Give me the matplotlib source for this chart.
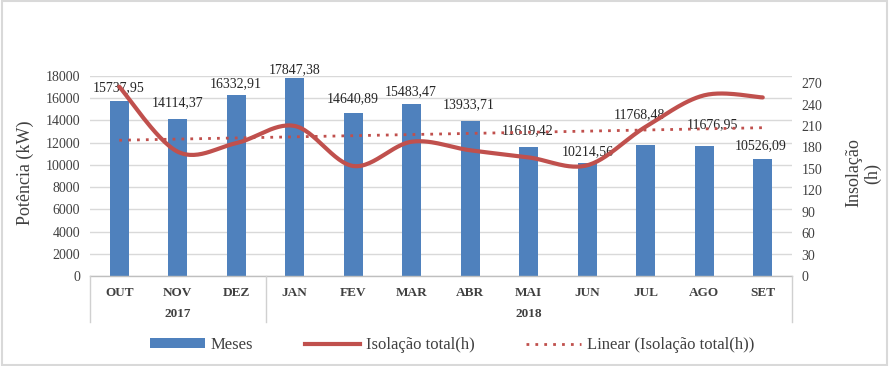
import matplotlib
matplotlib.use('Agg')
matplotlib.rc('font', family='Liberation Serif')
import numpy as np
import matplotlib.pyplot as plt
from matplotlib.patches import Rectangle, Patch
from matplotlib.lines import Line2D

meses = ['OUT', 'NOV', 'DEZ', 'JAN', 'FEV', 'MAR', 'ABR', 'MAI', 'JUN', 'JUL', 'AGO', 'SET']
anos = ['2017', '2018']
potencia = [15737.95, 14114.37, 16332.91, 17847.38, 14640.89, 15483.47,
            13933.71, 11619.42, 10214.56, 11768.48, 11676.95, 10526.09]
insolacao = [265, 174, 186, 210, 154, 188, 176, 166, 155, 209, 253, 250]

azul = '#4F81BD'
verm = '#C0504D'
grade = '#D9D9D9'

# label offsets (px) from bar top, as placed in the original
lbl_dx = [-1, 0, -1, 0, -1, -1, -2, -1, 0, -6, 8, -2]
lbl_dy = [13, 16, 11, 8, 15, 12, 16, 16, 11, 31, 22, 13]


def catmull(xs, ys, n=30):
    xs = np.asarray(xs, float)
    ys = np.asarray(ys, float)
    px = np.concatenate([[xs[0]], xs, [xs[-1]]])
    py = np.concatenate([[ys[0]], ys, [ys[-1]]])
    ox, oy = [], []
    for i in range(1, len(px) - 2):
        t = np.linspace(0, 1, n)
        for p, out in ((px, ox), (py, oy)):
            p0, p1, p2, p3 = p[i - 1], p[i], p[i + 1], p[i + 2]
            m1 = (p2 - p0) / 2
            m2 = (p3 - p1) / 2
            h00 = 2 * t**3 - 3 * t**2 + 1
            h10 = t**3 - 2 * t**2 + t
            h01 = -2 * t**3 + 3 * t**2
            h11 = t**3 - t**2
            out.extend(h00 * p1 + h10 * m1 + h01 * p2 + h11 * m2)
    return np.array(ox), np.array(oy)


W, H = 889, 366
fig = plt.figure(figsize=(W / 100, H / 100), dpi=100)
ax = fig.add_axes([90 / W, 1 - 276 / H, 702 / W, 200 / H])
ax2 = ax.twinx()

x = np.arange(len(meses))
ax.bar(x, potencia, width=0.33, color=azul, zorder=2)
ax.set_xlim(-0.5, len(meses) - 0.5)
ax.set_ylim(0, 18000)
ax.set_yticks(np.arange(0, 18001, 2000))
ax.grid(axis='y', color=grade, linewidth=1, zorder=0)
ax.set_axisbelow(True)
for s in ax.spines.values():
    s.set_visible(False)
for s in ax2.spines.values():
    s.set_visible(False)
ax.tick_params(axis='y', length=0, pad=7, labelsize=10, labelcolor='#404040')
ax.set_xticks(x)
ax.set_xticklabels(meses, fontweight='bold', fontsize=9.5, color='#404040')
ax.tick_params(axis='x', length=0, pad=8)

for i, v in enumerate(potencia):
    ax.annotate(f'{v:.2f}'.replace('.', ','), (x[i], v),
                xytext=(lbl_dx[i] * 0.72, lbl_dy[i] * 0.72), textcoords='offset points',
                ha='center', va='center', fontsize=10, color='#262626', zorder=5)

# secondary axis: insolation
sx, sy = catmull(x, insolacao)
ax2.plot(sx, sy, color=verm, linewidth=3, solid_capstyle='round', zorder=3)
coef = np.polyfit(x, insolacao, 1)
ax2.plot([x[0], x[-1]], np.polyval(coef, [x[0], x[-1]]), color=verm,
         linestyle=(0, (1, 2.2)), linewidth=2, zorder=3)
ax2.set_ylim(0, 280)
ax2.set_yticks(np.arange(0, 271, 30))
ax2.tick_params(axis='y', length=0, pad=7, labelsize=10, labelcolor='#404040')

fig.text(25 / W, 1 - 173 / H, 'Potência (kW)', rotation=90, ha='center', va='center',
         fontsize=13, color='#404040')
fig.text(863 / W, 1 - 173 / H, 'Insolação\n(h)', rotation=90, ha='center', va='center',
         multialignment='center', fontsize=13, color='#404040', linespacing=1.1)

# multi-level category frame
tr = ax.get_xaxis_transform()
low = -46 / 200
ax.plot([-0.5, 11.5], [0, 0], color='#BFBFBF', lw=1, transform=tr, clip_on=False)
for xv in (-0.5, 2.5, 11.5):
    ax.plot([xv, xv], [0, low], color='#D0D0D0', lw=1, transform=tr, clip_on=False)
ax.text(1, -38 / 200, anos[0], transform=tr, ha='center', va='center',
        fontweight='bold', fontsize=9.5, color='#404040')
ax.text(7, -38 / 200, anos[1], transform=tr, ha='center', va='center',
        fontweight='bold', fontsize=9.5, color='#404040')

handles = [Patch(facecolor=azul),
           Line2D([], [], color=verm, lw=3),
           Line2D([], [], color=verm, lw=2, linestyle=(0, (1, 2.2)))]
labels = ['Meses', 'Isolação total(h)', 'Linear (Isolação total(h))']
fig.legend(handles, labels, loc='center', bbox_to_anchor=(452 / W, 1 - 345 / H),
           ncol=3, frameon=False, fontsize=12, handlelength=3.3, handleheight=0.55,
           columnspacing=3.1, handletextpad=0.35, labelcolor='#404040')

fig.patches.append(Rectangle((2 / W, 1 / H), 885 / W, 364 / H, transform=fig.transFigure,
                             fill=False, edgecolor=grade, linewidth=1.5))

fig.savefig('out.png', dpi=100)
